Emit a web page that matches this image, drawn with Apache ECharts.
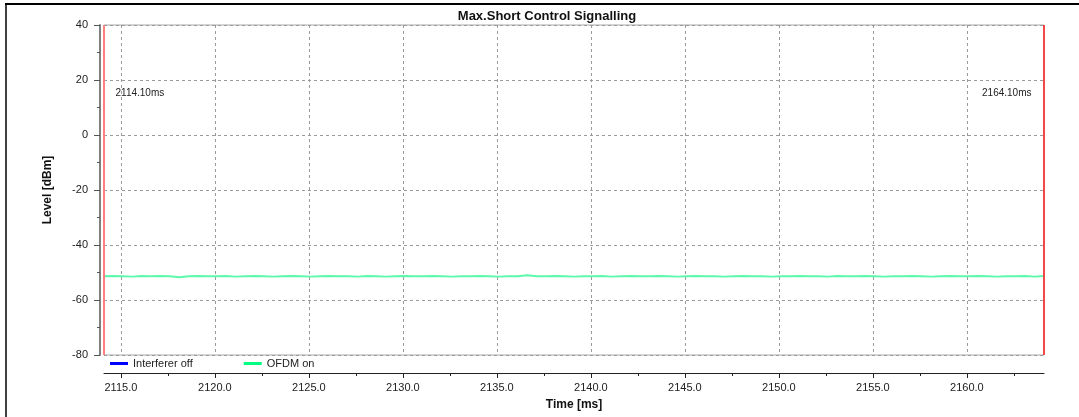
<!DOCTYPE html>
<html>
<head>
<meta charset="utf-8">
<script src="https://cdn.jsdelivr.net/npm/echarts@6/dist/echarts.min.js"></script>
<style>
html,body{margin:0;padding:0;background:#fff;}
#c{width:1079px;height:417px;}
</style>
</head>
<body>
<div id="c"></div>
<script>
const chartTitle = 'Max.Short Control Signalling';
const xAxisTitle = 'Time [ms]';
const yAxisTitle = 'Level [dBm]';
const xMin = 2114.1, xMax = 2164.1;
const yMin = -80, yMax = 40, yStep = 20;
const xMajorTicks = [2115, 2120, 2125, 2130, 2135, 2140, 2145, 2150, 2155, 2160];
const xMinorTicks = [2117.5, 2122.5, 2127.5, 2132.5, 2137.5, 2142.5, 2147.5, 2152.5, 2157.5, 2162.5];
const seriesNames = ['Interferer off', 'OFDM on'];
const interfererOff = [];
const times = [
2114.1,2114.6,2115.1,2115.6,2116.1,2116.6,2117.1,2117.6,2118.1,2118.6,
2119.1,2119.6,2120.1,2120.6,2121.1,2121.6,2122.1,2122.6,2123.1,2123.6,
2124.1,2124.6,2125.1,2125.6,2126.1,2126.6,2127.1,2127.6,2128.1,2128.6,
2129.1,2129.6,2130.1,2130.6,2131.1,2131.6,2132.1,2132.6,2133.1,2133.6,
2134.1,2134.6,2135.1,2135.6,2136.1,2136.6,2137.1,2137.6,2138.1,2138.6,
2139.1,2139.6,2140.1,2140.6,2141.1,2141.6,2142.1,2142.6,2143.1,2143.6,
2144.1,2144.6,2145.1,2145.6,2146.1,2146.6,2147.1,2147.6,2148.1,2148.6,
2149.1,2149.6,2150.1,2150.6,2151.1,2151.6,2152.1,2152.6,2153.1,2153.6,
2154.1,2154.6,2155.1,2155.6,2156.1,2156.6,2157.1,2157.6,2158.1,2158.6,
2159.1,2159.6,2160.1,2160.6,2161.1,2161.6,2162.1,2162.6,2163.1,2163.6,
2164.1];
const ofdmOn = [
-51.4,-51.3,-51.4,-51.5,-51.3,-51.4,-51.3,-51.4,-51.7,-51.4,
-51.3,-51.4,-51.4,-51.3,-51.5,-51.4,-51.3,-51.4,-51.5,-51.4,
-51.3,-51.4,-51.5,-51.4,-51.3,-51.4,-51.4,-51.5,-51.3,-51.4,
-51.5,-51.4,-51.3,-51.4,-51.4,-51.3,-51.4,-51.5,-51.4,-51.4,
-51.3,-51.4,-51.5,-51.4,-51.4,-51.0,-51.4,-51.4,-51.3,-51.4,
-51.5,-51.4,-51.4,-51.3,-51.5,-51.4,-51.3,-51.4,-51.4,-51.3,
-51.4,-51.5,-51.4,-51.3,-51.4,-51.4,-51.5,-51.4,-51.3,-51.4,
-51.4,-51.5,-51.4,-51.4,-51.3,-51.4,-51.4,-51.5,-51.3,-51.4,
-51.4,-51.3,-51.4,-51.5,-51.4,-51.4,-51.3,-51.4,-51.5,-51.4,
-51.3,-51.4,-51.4,-51.3,-51.4,-51.5,-51.4,-51.4,-51.3,-51.5,
-51.3];
const markerTimes = [2114.1, 2164.1];
const markerLabels = ['2114.10ms', '2164.10ms'];
const markerLabelLevel = 15.3;

const FONT = '"Liberation Sans", Arial, sans-serif';
const chart = echarts.init(document.getElementById('c'), null, {renderer: 'canvas'});

const ofdmData = times.map((t, i) => [t, ofdmOn[i]]);

const option = {
  animation: false,
  backgroundColor: '#fff',
  textStyle: {fontFamily: FONT},
  title: {
    text: chartTitle,
    left: 547, top: 10, textAlign: 'center', padding: 0,
    textStyle: {fontFamily: FONT, fontSize: 13, fontWeight: 'bold', color: '#111'}
  },
  legend: {
    left: 110, top: 358, padding: 0,
    icon: 'rect', itemWidth: 18, itemHeight: 3, itemGap: 51,
    textStyle: {fontFamily: FONT, fontSize: 11, color: '#222'},
    data: seriesNames
  },
  grid: {
    left: 104, right: 35, top: 25, bottom: 62,
    show: true, borderColor: '#a8a8a8', borderWidth: 1, backgroundColor: 'transparent'
  },
  xAxis: [{
    type: 'value', min: xMin, max: xMax, position: 'bottom', offset: 18,
    name: xAxisTitle, nameLocation: 'middle', nameGap: 26,
    nameTextStyle: {fontFamily: FONT, fontSize: 12, fontWeight: 'bold', color: '#111'},
    axisLine: {show: true, onZero: false, lineStyle: {color: '#222', width: 1}},
    axisTick: {show: true, length: 5, customValues: xMajorTicks, lineStyle: {color: '#222'}},
    axisLabel: {show: true, customValues: xMajorTicks, margin: 9, fontSize: 11, color: '#222', fontFamily: FONT,
      formatter: v => v.toFixed(1)},
    splitLine: {show: true, lineStyle: {color: '#9a9a9a', type: [3, 3], width: 1}}
  }, {
    type: 'value', min: xMin, max: xMax, position: 'bottom', offset: 18, gridIndex: 0,
    axisLine: {show: false, onZero: false},
    axisTick: {show: true, length: 3, customValues: xMinorTicks, lineStyle: {color: '#222'}},
    axisLabel: {show: false},
    splitLine: {show: false}
  }],
  yAxis: {
    type: 'value', min: yMin, max: yMax, interval: yStep, offset: 4,
    name: yAxisTitle, nameLocation: 'middle', nameGap: 46, nameRotate: 90,
    nameTextStyle: {fontFamily: FONT, fontSize: 12, fontWeight: 'bold', color: '#111'},
    axisLine: {show: true, onZero: false, lineStyle: {color: '#808080', width: 2}},
    axisTick: {show: true, length: 6, lineStyle: {color: '#555'}},
    minorTick: {show: true, splitNumber: 2, length: 3, lineStyle: {color: '#555'}},
    axisLabel: {margin: 12, fontSize: 11, color: '#222', fontFamily: FONT},
    splitLine: {show: true, lineStyle: {color: '#9a9a9a', type: [3, 3], width: 1}}
  },
  series: [{
    name: seriesNames[0], type: 'line', xAxisIndex: 0, data: interfererOff,
    showSymbol: false, itemStyle: {color: '#0000ff'}, lineStyle: {color: '#0000ff', width: 2}
  }, {
    name: seriesNames[1], type: 'line', xAxisIndex: 0, data: ofdmData, clip: false,
    showSymbol: false, symbol: 'none',
    itemStyle: {color: '#00ff80'}, lineStyle: {color: '#5cf8ab', width: 2},
    markLine: {
      silent: true, symbol: 'none', animation: false,
      label: {show: false},
      data: [
        {xAxis: markerTimes[0], lineStyle: {color: '#ff7f7f', width: 2, type: 'solid'}},
        {xAxis: markerTimes[1], lineStyle: {color: '#ff1a1a', width: 1.5, type: 'solid'}}
      ]
    },
    markPoint: {
      silent: true, symbol: 'circle', symbolSize: 1,
      itemStyle: {color: 'rgba(0,0,0,0)'},
      data: [
        {coord: [markerTimes[0], markerLabelLevel], label: {show: true, formatter: markerLabels[0], position: 'right', distance: 11, fontSize: 10, color: '#222', fontFamily: FONT}},
        {coord: [markerTimes[1], markerLabelLevel], label: {show: true, formatter: markerLabels[1], position: 'left', distance: 12, fontSize: 10, color: '#222', fontFamily: FONT}}
      ]
    }
  }],
  graphic: [
    {type: 'line', shape: {x1: 5, y1: 4, x2: 1079, y2: 4}, style: {stroke: '#000', lineWidth: 2}},
    {type: 'line', shape: {x1: 6, y1: 4, x2: 6, y2: 417}, style: {stroke: '#000', lineWidth: 1.5}}
  ]
};
chart.setOption(option);
</script>
</body>
</html>
